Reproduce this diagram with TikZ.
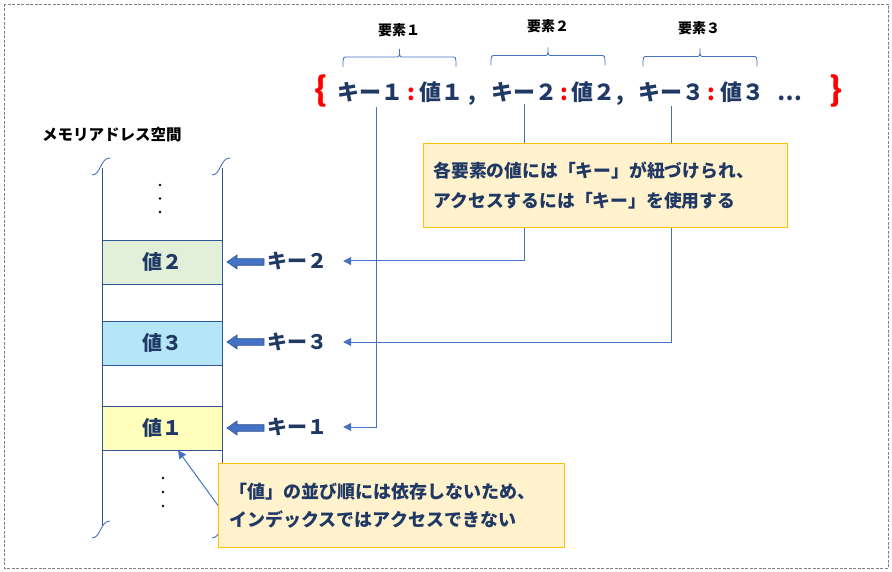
\documentclass[tikz,border=0pt]{standalone}
\usepackage{fontspec}
\setmainfont{Noto Sans CJK JP}
\usetikzlibrary{arrows.meta}
\definecolor{navy}{HTML}{1F3864}
\definecolor{linkblue}{HTML}{4472C4}
\definecolor{celledge}{HTML}{2F5597}
\definecolor{arrowedge}{HTML}{2F528F}
\definecolor{notefill}{HTML}{FFF2CC}
\definecolor{noteedge}{HTML}{FFC000}
\definecolor{greenfill}{HTML}{E2F0D9}
\definecolor{bluefill}{HTML}{B4E6F8}
\definecolor{yellowfill}{HTML}{FFFFBB}
\definecolor{framegray}{HTML}{808080}
\definecolor{bracered}{HTML}{FF0000}
\newcommand\fsz[2]{\fontsize{#1}{#2}\selectfont}
\newcommand\elbrace[4]{% left x, right x, line y, end y
  \draw[bracket] (#1,#4) .. controls (#1,#3) .. (#1+4,#3)
    -- ({(#1+#2)/2-4},#3) .. controls ({(#1+#2)/2},#3) .. ({(#1+#2)/2},#3-8)
    .. controls ({(#1+#2)/2},#3) .. ({(#1+#2)/2+4},#3)
    -- (#2-4,#3) .. controls (#2,#3) .. (#2,#4);}
% block arrow pointing left: tip x, y
\newcommand\blockarr[2]{%
  \filldraw[blockarrow] (#1,#2) -- (#1+10,#2-7) -- (#1+10,#2-3.3) -- (#1+37,#2-3.3)
    -- (#1+37,#2+3.3) -- (#1+10,#2+3.3) -- (#1+10,#2+7) -- cycle;}
\begin{document}
\begin{tikzpicture}[x=1pt,y=-1pt,
  frame/.style={draw=framegray, dash pattern=on 3pt off 1.5pt, line width=0.8pt},
  memlabel/.style={text=black, font=\fsz{15.5}{18}\bfseries, inner sep=0pt},
  colline/.style={draw=celledge, line width=0.9pt},
  wave/.style={draw=linkblue, line width=0.9pt},
  cell/.style={draw=celledge, line width=0.9pt, minimum width=120pt, minimum height=44pt, inner sep=0pt, text=navy, font=\fsz{20}{24}\bfseries},
  keylab/.style={text=navy, font=\fsz{20}{24}\bfseries, inner sep=0pt},
  formula/.style={text=navy, font=\fsz{22}{26}\bfseries, inner sep=0pt, anchor=base},
  redcolon/.style={formula, text=bracered},
  redbrace/.style={text=bracered, font=\fsz{33}{36}\bfseries, inner sep=0pt, anchor=base},
  ellabel/.style={text=black, font=\fsz{14}{17}\bfseries, inner sep=0pt},
  bracket/.style={draw=linkblue, line width=0.8pt},
  conn/.style={draw=linkblue, line width=1pt, -{Triangle[length=8pt,width=8pt]}},
  note/.style={draw=noteedge, line width=1pt, fill=notefill, text=navy, align=left, anchor=north west},
  blockarrow/.style={draw=arrowedge, fill=linkblue, line width=0.6pt, line join=miter}
]
\useasboundingbox (0,0) rectangle (892,572);
\draw[frame] (4,4) rectangle (888,568);

% memory space
\node[memlabel, anchor=west] (mem) at (42,135) {メモリアドレス空間};
\draw[colline] (102,168) -- (102,526);
\draw[colline] (222,168) -- (222,526);
\draw[wave] (92,175) .. controls (101,175) and (100,158) .. (110,158);
\draw[wave] (212,175) .. controls (221,175) and (220,158) .. (230,158);
\draw[wave] (92,538) .. controls (101,538) and (100,521) .. (110,521);
\draw[wave] (212,538) .. controls (221,538) and (220,521) .. (230,521);

\node[cell, fill=greenfill] (v2) at (162,262) {値２};
\node[cell, fill=bluefill] (v3) at (162,343) {値３};
\node[cell, fill=yellowfill] (v1) at (162,428) {値１};

\foreach \yy in {185,198.5,212} \fill (160,\yy) circle (1.3pt);
\foreach \yy in {478,492,506} \fill (163,\yy) circle (1.3pt);

% formula
\node[redbrace] (lb) at (321,102) {\{};
\node[formula] (tk1) at (370.5,101) {キー１};
\node[redcolon] (co1) at (411,101) {:};
\node[formula] (tv1) at (441,101) {値１};
\node[formula] (cm1) at (472,101) {,};
\node[formula] (tk2) at (524,101) {キー２};
\node[redcolon] (co2) at (564,101) {:};
\node[formula] (tv2) at (593,101) {値２};
\node[formula] (cm2) at (620,101) {,};
\node[formula] (tk3) at (671,101) {キー３};
\node[redcolon] (co3) at (711,101) {:};
\node[formula] (tv3) at (742,101) {値３};
\node[formula] (dots) at (790,101) {…};
\node[redbrace] (rb) at (836,102) {\}};

% element braces
\elbrace{343}{456}{57}{67}
\elbrace{491}{605}{55.5}{65.5}
\elbrace{643}{757}{56.5}{66.5}
\node[ellabel] (e1) at (399,30) {要素１};
\node[ellabel] (e2) at (548,26.5) {要素２};
\node[ellabel] (e3) at (699,28.5) {要素３};

% keys
\node[keylab] (k2) at (297,261) {キー２};
\node[keylab] (k3) at (297,342) {キー３};
\node[keylab] (k1) at (297,427) {キー１};

% connectors
\draw[conn, shorten <=4pt, shorten >=16pt] ([xshift=6pt]tk1.south) |- (k1.east);
\draw[conn, shorten <=1pt, shorten >=16pt] (tk2.south) |- (k2.east);
\draw[conn, shorten <=3pt, shorten >=16pt] (tk3.south) |- (k3.east);

% block arrows (key -> cell)
\blockarr{227}{262}
\blockarr{227}{342}
\blockarr{227}{428}

% notes
\node[note, minimum width=364pt, minimum height=84pt, text width=344pt, inner xsep=10pt, font=\fsz{17.8}{30}\bfseries] (n1) at (423,143)
  {各要素の値には「キー」が紐づけられ、\\アクセスするには「キー」を使用する};
\node[note, minimum width=346pt, minimum height=84pt, text width=324pt, inner xsep=11pt, font=\fsz{18}{28}\bfseries] (n2) at (218,463)
  {「値」の並び順には依存しないため、\\インデックスではアクセスできない};
\draw[conn] (n2.west) -- ([xshift=16pt]v1.south);
\end{tikzpicture}
\end{document}
